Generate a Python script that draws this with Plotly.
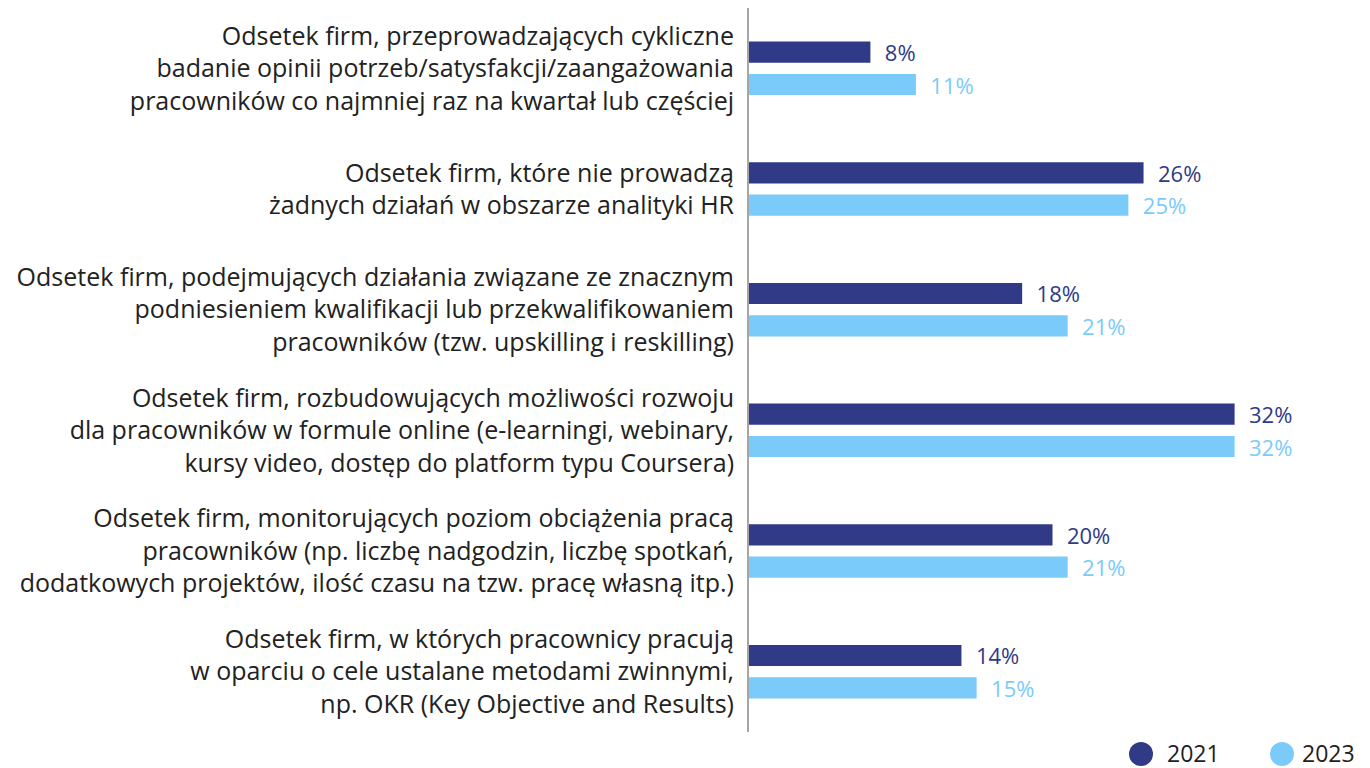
import plotly.graph_objects as go

categories = [
    "Odsetek firm, przeprowadzających cykliczne<br>badanie opinii potrzeb/satysfakcji/zaangażowania<br>pracowników co najmniej raz na kwartał lub częściej",
    "Odsetek firm, które nie prowadzą<br>żadnych działań w obszarze analityki HR",
    "Odsetek firm, podejmujących działania związane ze znacznym<br>podniesieniem kwalifikacji lub przekwalifikowaniem<br>pracowników (tzw. upskilling i reskilling)",
    "Odsetek firm, rozbudowujących możliwości rozwoju<br>dla pracowników w formule online (e-learningi, webinary,<br>kursy video, dostęp do platform typu Coursera)",
    "Odsetek firm, monitorujących poziom obciążenia pracą<br>pracowników (np. liczbę nadgodzin, liczbę spotkań,<br>dodatkowych projektów, ilość czasu na tzw. pracę własną itp.)",
    "Odsetek firm, w których pracownicy pracują<br>w oparciu o cele ustalane metodami zwinnymi,<br>np. OKR (Key Objective and Results)",
]
series_names = ["2021", "2023"]
values_2021 = [8, 26, 18, 32, 20, 14]
values_2023 = [11, 25, 21, 32, 21, 15]

DARK = "#303a87"
LIGHT = "#7acbfa"
FONT = "Open Sans"

W, H = 1362, 760
L, R, T, B = 741, 14, 0, 36
PW, PH = W - L - R, H - T - B

fig = go.Figure()
for name, vals, col in [(series_names[0], values_2021, DARK), (series_names[1], values_2023, LIGHT)]:
    fig.add_trace(go.Bar(
        y=categories, x=vals, orientation="h", name=name,
        marker=dict(color=col, line=dict(width=0)),
        text=vals, texttemplate="\u00a0\u00a0%{x}%", textposition="outside",
        constraintext="none",
        textfont=dict(color=col, size=22, family=FONT),
        cliponaxis=False, showlegend=False,
    ))

fig.update_layout(
    width=W, height=H,
    margin=dict(l=L, r=R, t=T, b=B),
    paper_bgcolor="white", plot_bgcolor="white",
    barmode="group", bargap=0.464, bargroupgap=0.344,
    font=dict(family=FONT, color="#222222"),
    xaxis=dict(range=[0, 40], visible=False, fixedrange=True),
    yaxis=dict(autorange="reversed", showline=True, linecolor="#a6a6a6", linewidth=2,
               showgrid=False, zeroline=False, ticks="", ticklabelstandoff=8,
               tickfont=dict(size=25, family=FONT, color="#222222")),
)

# custom circular legend (pixel positions in figure coordinates)
legend_items = [(series_names[0], DARK, 1133, 1157), (series_names[1], LIGHT, 1274, 1292)]
for label, col, cx, tx in legend_items:
    fig.add_shape(type="circle", xref="paper", yref="paper",
                  xsizemode="pixel", ysizemode="pixel",
                  xanchor=(cx - L) / PW, yanchor=-(746 - (T + PH)) / PH,
                  x0=-12, x1=12, y0=-12, y1=12,
                  fillcolor=col, line=dict(width=0))
    fig.add_annotation(text=label, xref="paper", yref="paper",
                       x=(tx - L) / PW, y=-(745 - (T + PH)) / PH,
                       xanchor="left", yanchor="middle", showarrow=False,
                       font=dict(size=23, family=FONT, color="#222222"))

fig.write_html("out.html")
